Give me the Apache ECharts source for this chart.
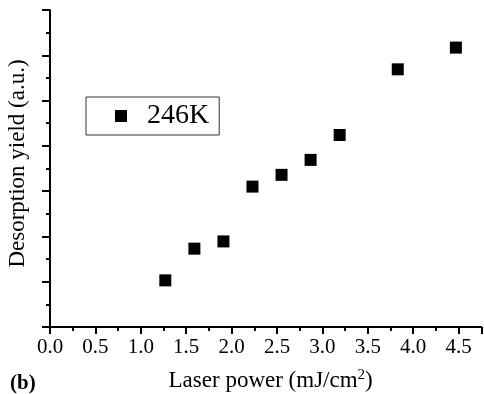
<!DOCTYPE html>
<html>
<head>
<meta charset="utf-8">
<style>html,body{margin:0;padding:0;background:#fff}#c{width:484px;height:394px}</style>
<script src="https://cdn.jsdelivr.net/npm/echarts@6/dist/echarts.min.js"></script>
</head>
<body>
<div id="c"></div>
<script>
const seriesName = '246K';
const laserPower = [1.27, 1.59, 1.91, 2.23, 2.55, 2.87, 3.19, 3.83, 4.47];
const desorptionYield = [1.03, 1.73, 1.89, 3.10, 3.36, 3.69, 4.24, 5.69, 6.17];
const xTitle = 'Laser power (mJ/cm{sup|2})';
const yTitle = 'Desorption yield (a.u.)';
const panelLabel = '(b)';

const font = 'Liberation Serif';
const chart = echarts.init(document.getElementById('c'), null, {renderer: 'canvas'});
chart.setOption({
  animation: false,
  backgroundColor: '#fff',
  grid: {left: 50, right: 2.7, top: 10, bottom: 67, containLabel: false, outerBoundsMode: 'none'},
  legend: {
    left: 86, top: 97,
    padding: [4, 10, 4, 29],
    borderColor: '#333', borderWidth: 1,
    itemWidth: 12, itemHeight: 12,
    icon: 'rect',
    itemStyle: {opacity: 1, color: '#000'},
    textStyle: {fontFamily: font, fontSize: 28, lineHeight: 30, color: '#000', padding: [0, 0, 0, 15]},
    data: [seriesName]
  },
  xAxis: {
    type: 'value', min: 0, max: 4.75, interval: 0.5,
    name: xTitle, nameLocation: 'middle', nameGap: 41,
    nameTextStyle: {fontFamily: font, fontSize: 23, color: '#000', padding: [0, 0, 0, 10],
      rich: {sup: {fontFamily: font, fontSize: 15, verticalAlign: 'top', padding: [0, 0, 10, 0], color: '#000'}}},
    axisLine: {show: true, lineStyle: {color: '#000', width: 2}},
    axisTick: {show: true, inside: false, length: 7, lineStyle: {color: '#000', width: 2}},
    minorTick: {show: true, splitNumber: 2, length: 4, lineStyle: {color: '#000', width: 2}},
    axisLabel: {fontFamily: font, fontSize: 21, color: '#000', margin: 10,
      formatter: v => v.toFixed(1), showMaxLabel: false},
    splitLine: {show: false}
  },
  yAxis: {
    type: 'value', min: 0, max: 7, interval: 1,
    name: yTitle, nameLocation: 'middle', nameGap: 21,
    nameTextStyle: {fontFamily: font, fontSize: 23, color: '#000', padding: [0, 0, 0, 10]},
    axisLine: {show: true, lineStyle: {color: '#000', width: 2}},
    axisTick: {show: true, inside: false, length: 8, lineStyle: {color: '#000', width: 2}},
    minorTick: {show: true, splitNumber: 2, length: 4, lineStyle: {color: '#000', width: 2}},
    axisLabel: {show: false},
    splitLine: {show: false}
  },
  graphic: [{
    type: 'text', left: 10, top: 373,
    style: {text: panelLabel, font: 'bold 21px "Liberation Serif"', fill: '#000'}
  }],
  series: [{
    name: seriesName, type: 'scatter',
    symbol: 'rect', symbolSize: 12,
    itemStyle: {color: '#000', opacity: 1},
    data: laserPower.map((x, i) => [x, desorptionYield[i]])
  }]
});
</script>
</body>
</html>
